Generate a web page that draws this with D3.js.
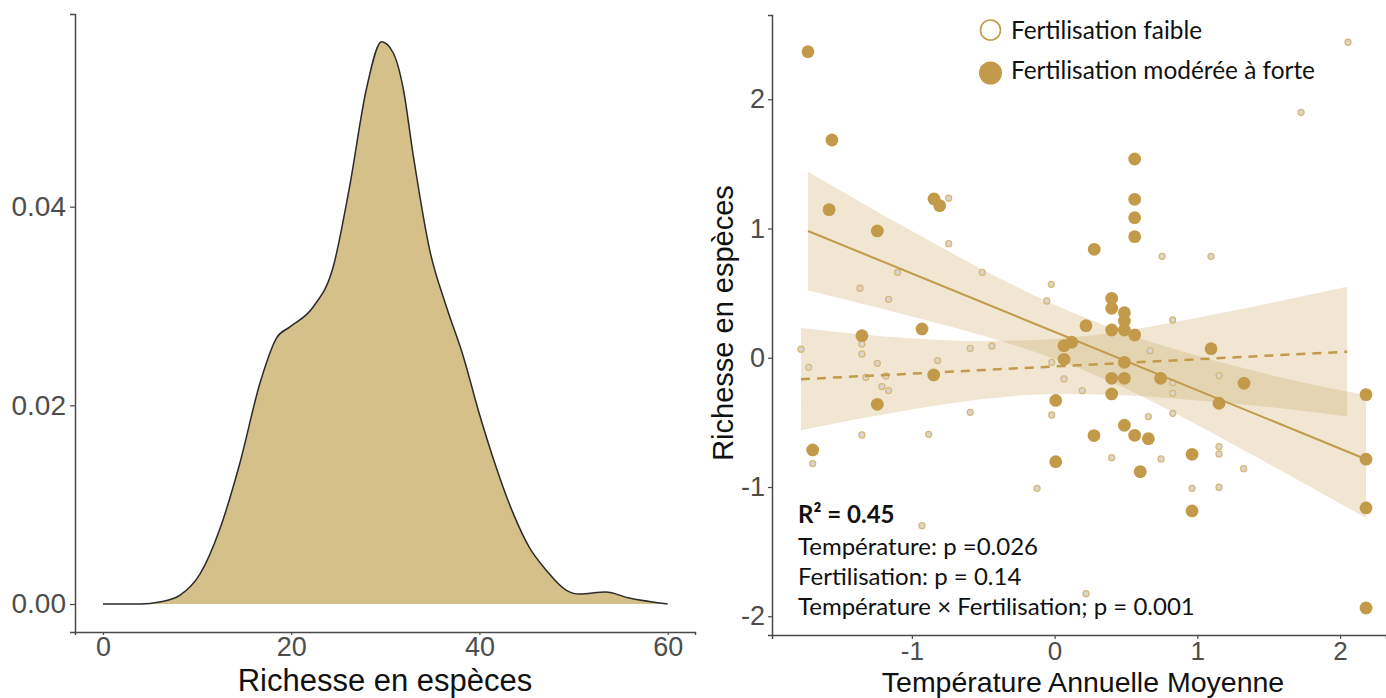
<!DOCTYPE html>
<html>
<head>
<meta charset="utf-8">
<script src="https://cdn.jsdelivr.net/npm/d3@7"></script>
<style>
  body { margin: 0; background: #fff; }
  svg { display: block; }
</style>
</head>
<body>
<div id="chart"></div>
<script>
// density panel (richesse en espèces)
const densityX = [0, 4, 6, 8.2, 10.3, 12.4, 14.55, 16.7, 18.45, 19.86, 22.33, 24.45, 26.2, 28.0, 29.6, 30.83, 31.9, 32.96, 34.7, 36.5, 38.26, 40.0, 41.8, 43.55, 45.3, 47.1, 49.2, 50.6, 53.4, 55.9, 60];
const densityY = [0, 0, 0.0002, 0.0009, 0.0030, 0.0075, 0.0142, 0.0223, 0.0268, 0.0279, 0.0299, 0.0339, 0.0420, 0.0519, 0.0566, 0.0555, 0.0519, 0.0452, 0.0357, 0.0299, 0.0250, 0.0191, 0.0137, 0.0092, 0.0057, 0.0034, 0.0014, 0.0010, 0.0012, 0.0006, 0.0000];
const densityXTicks = [0, 20, 40, 60];
const densityYTicks = [0, 0.02, 0.04];

// scatter panel: fertilisation modérée à forte (large points)
const highTemp = [-1.728, -1.56, -1.58, -1.242, -0.845, -0.805, -0.929, -1.35, -0.847, -1.242, -1.695,
  0.561, 0.561, 0.561, 0.561, 0.278, 0.40, 0.40, 0.489, 0.489, 0.22, 0.40, 0.489, 0.561, 0.066, 0.12,
  0.066, 0.489, 0.40, 0.489, 0.743, 1.096, 1.327, 1.152, 0.40, 0.008, 2.182, 2.182, 2.182, 2.182,
  0.489, 0.561, 0.276, 0.657, 0.963, 0.008, 0.60, 0.963];
const highRich = [2.368, 1.685, 1.146, 0.981, 1.229, 1.177, 0.223, 0.171, -0.133, -0.36, -0.713,
  1.538, 1.226, 1.084, 0.937, 0.839, 0.46, 0.383, 0.349, 0.285, 0.248, 0.215, 0.215, 0.176, 0.094, 0.12,
  -0.012, -0.035, -0.159, -0.159, -0.159, 0.07, -0.197, -0.352, -0.28, -0.33, -0.285, -0.785, -1.162, -1.936,
  -0.522, -0.60, -0.602, -0.626, -0.747, -0.804, -0.881, -1.185];

// fertilisation faible (small points)
const lowTemp = [-0.742, -0.742, -1.10, -0.507, -1.364, -1.163, -0.023, -0.055, 2.056, 1.727, 0.753, 1.096,
  0.827, 0.669, -0.02, 0.066, 0.194, 1.152, 0.828, 0.828, 0.828, -0.02, 0.657, 0.40, 0.746, 1.152, 1.152,
  1.325, 0.963, 1.152, 0.22, -1.777, -1.723, -1.35, -1.35, -1.242, -1.322, -1.182, -1.21, -1.163, -0.82,
  -0.591, -0.439, -0.591, -1.35, -0.882, -1.695, -0.123, -0.929];
const lowRich = [1.234, 0.883, 0.661, 0.661, 0.538, 0.452, 0.568, 0.439, 2.441, 1.899, 0.785, 0.785,
  0.292, 0.055, -0.035, -0.164, -0.254, -0.138, -0.193, -0.275, -0.43, -0.443, -0.455, -0.773, -0.783, -0.688, -0.744,
  -0.858, -1.01, -1.002, -1.825, 0.066, -0.074, 0.107, 0.03, -0.043, -0.151, -0.141, -0.223, -0.254, -0.022,
  0.073, 0.091, -0.422, -0.597, -0.592, -0.819, -1.01, -1.299];

// fitted lines and confidence ribbons
const highFitT = [-1.728, 2.182];
const highFitY = [0.981, -0.785];
const highBandT = [-1.728, -1.0, -0.5, 0, 0.5, 1.0, 1.5, 2.182];
const highBandHi = [1.44, 0.98, 0.68, 0.41, 0.19, 0.015, -0.13, -0.29];
const highBandLo = [0.52, 0.32, 0.17, -0.01, -0.24, -0.52, -0.82, -1.24];

const lowFitT = [-1.777, 2.05];
const lowFitY = [-0.166, 0.047];
const lowBandT = [-1.777, -1.0, -0.5, 0, 0.5, 1.0, 1.5, 2.05];
const lowBandHi = [0.23, 0.15, 0.13, 0.145, 0.21, 0.31, 0.42, 0.55];
const lowBandLo = [-0.56, -0.40, -0.32, -0.28, -0.29, -0.33, -0.38, -0.455];

const scatterXTicks = [-1, 0, 1, 2];
const scatterYTicks = [-2, -1, 0, 1, 2];

const legendLabels = ["Fertilisation faible", "Fertilisation modérée à forte"];
const statsLines = ["Température: p =0.026", "Fertilisation: p = 0.14", "Température × Fertilisation; p = 0.001"];

const gold = "#c29a49";
const axisColor = "#4a4a4a";
const tickText = "#4d4d4d";

const svg = d3.select("#chart").append("svg")
  .attr("width", 1386)
  .attr("height", 698)
  .style("font-family", "'Liberation Sans', Arial, sans-serif");

function styleAxis(g, size) {
  g.select(".domain").attr("stroke", axisColor).attr("stroke-width", 1.5);
  g.selectAll(".tick line").attr("stroke", axisColor).attr("stroke-width", 1.2);
  g.selectAll(".tick text").attr("fill", tickText).style("font-size", size + "px");
}

// ---------- left panel: density ----------
const xL = d3.scaleLinear().domain([-2.97, 62.9]).range([75, 695]);
const yL = d3.scaleLinear().domain([-0.00282, 0.0594]).range([632, 14]);

const densityData = densityX.map((x, i) => ({x: x, y: densityY[i]}));

svg.append("path")
  .datum(densityData)
  .attr("fill", "#d5c08a")
  .attr("d", d3.area().x(d => xL(d.x)).y0(yL(0)).y1(d => yL(d.y)).curve(d3.curveMonotoneX));

svg.append("path")
  .datum(densityData)
  .attr("fill", "none")
  .attr("stroke", "#2b2b2b")
  .attr("stroke-width", 1.5)
  .attr("d", d3.line().x(d => xL(d.x)).y(d => yL(d.y)).curve(d3.curveMonotoneX));

const xAxisL = svg.append("g")
  .attr("transform", "translate(0,632)")
  .call(d3.axisBottom(xL).tickValues(densityXTicks).tickSizeOuter(0).tickSize(3).tickPadding(2));
styleAxis(xAxisL, 27);

const yAxisL = svg.append("g")
  .attr("transform", "translate(75,0)")
  .call(d3.axisLeft(yL).tickValues(densityYTicks).tickFormat(d3.format(".2f")).tickSizeOuter(0).tickSize(5).tickPadding(4));
styleAxis(yAxisL, 28);

svg.append("text")
  .attr("x", 385)
  .attr("y", 691)
  .attr("text-anchor", "middle")
  .style("font-size", "31px")
  .attr("fill", "#111")
  .text("Richesse en espèces");

// ---------- right panel: scatter ----------
const xR = d3.scaleLinear().domain([-1.980, 2.322]).range([772, 1386]);
const yR = d3.scaleLinear().domain([-2.145, 2.652]).range([635, 15]);

const band = d3.area()
  .x(d => xR(d.t))
  .y0(d => yR(d.lo))
  .y1(d => yR(d.hi))
  .curve(d3.curveMonotoneX);

const highBand = highBandT.map((t, i) => ({t: t, hi: highBandHi[i], lo: highBandLo[i]}));
const lowBand = lowBandT.map((t, i) => ({t: t, hi: lowBandHi[i], lo: lowBandLo[i]}));

[lowBand, highBand].forEach(b => {
  svg.append("path")
    .datum(b)
    .attr("fill", "#cdac69")
    .attr("fill-opacity", 0.3)
    .attr("d", band);
});

const lowPts = lowTemp.map((t, i) => ({t: t, r: lowRich[i]}));
const highPts = highTemp.map((t, i) => ({t: t, r: highRich[i]}));

svg.append("g").selectAll("circle")
  .data(lowPts)
  .join("circle")
  .attr("cx", d => xR(d.t))
  .attr("cy", d => yR(d.r))
  .attr("r", 3)
  .attr("fill", "#d9d6cf")
  .attr("stroke", "#d8b878")
  .attr("stroke-width", 1.3);

svg.append("g").selectAll("circle")
  .data(highPts)
  .join("circle")
  .attr("cx", d => xR(d.t))
  .attr("cy", d => yR(d.r))
  .attr("r", 6.4)
  .attr("fill", gold);

const fitLine = d3.line().x(d => xR(d.t)).y(d => yR(d.y));

svg.append("path")
  .datum(highFitT.map((t, i) => ({t: t, y: highFitY[i]})))
  .attr("fill", "none")
  .attr("stroke", gold)
  .attr("stroke-width", 2)
  .attr("d", fitLine);

svg.append("path")
  .datum(lowFitT.map((t, i) => ({t: t, y: lowFitY[i]})))
  .attr("fill", "none")
  .attr("stroke", gold)
  .attr("stroke-width", 2.5)
  .attr("stroke-dasharray", "9,7")
  .attr("d", fitLine);

const xAxisR = svg.append("g")
  .attr("transform", "translate(0,635)")
  .call(d3.axisBottom(xR).tickValues(scatterXTicks).tickFormat(d => String(d)).tickSizeOuter(0).tickSize(4).tickPadding(3));
styleAxis(xAxisR, 26);

const yAxisR = svg.append("g")
  .attr("transform", "translate(772,0)")
  .call(d3.axisLeft(yR).tickValues(scatterYTicks).tickFormat(d => String(d)).tickSizeOuter(0).tickSize(4).tickPadding(3));
styleAxis(yAxisR, 27);

svg.append("text")
  .attr("x", 1083)
  .attr("y", 692)
  .attr("text-anchor", "middle")
  .style("font-size", "28.5px")
  .attr("fill", "#111")
  .text("Température Annuelle Moyenne");

svg.append("text")
  .attr("transform", "translate(733,323) rotate(-90)")
  .attr("text-anchor", "middle")
  .style("font-size", "29px")
  .attr("fill", "#111")
  .text("Richesse en espèces");

// legend
const legend = svg.append("g").style("font-family", "Lato, 'Open Sans', sans-serif");
legend.append("circle")
  .attr("cx", 990.5).attr("cy", 30).attr("r", 10)
  .attr("fill", "#fff").attr("stroke", gold).attr("stroke-width", 1.6);
legend.append("circle")
  .attr("cx", 990.5).attr("cy", 73).attr("r", 11.5)
  .attr("fill", gold);
legend.selectAll("text")
  .data(legendLabels)
  .join("text")
  .attr("x", 1011)
  .attr("y", (d, i) => 39 + i * 40)
  .style("font-size", "24.4px")
  .attr("fill", "#111")
  .text(d => d);

// stats annotation
const stats = svg.append("g").style("font-family", "Lato, 'Open Sans', sans-serif");
stats.append("text")
  .attr("x", 798)
  .attr("y", 523)
  .style("font-size", "24px")
  .style("font-weight", "bold")
  .attr("fill", "#111")
  .text("R² = 0.45");
stats.selectAll("text.line")
  .data(statsLines)
  .join("text")
  .attr("class", "line")
  .attr("x", 798)
  .attr("y", (d, i) => 555 + i * 30)
  .style("font-size", "24px")
  .attr("fill", "#111")
  .text(d => d);
</script>
</body>
</html>
